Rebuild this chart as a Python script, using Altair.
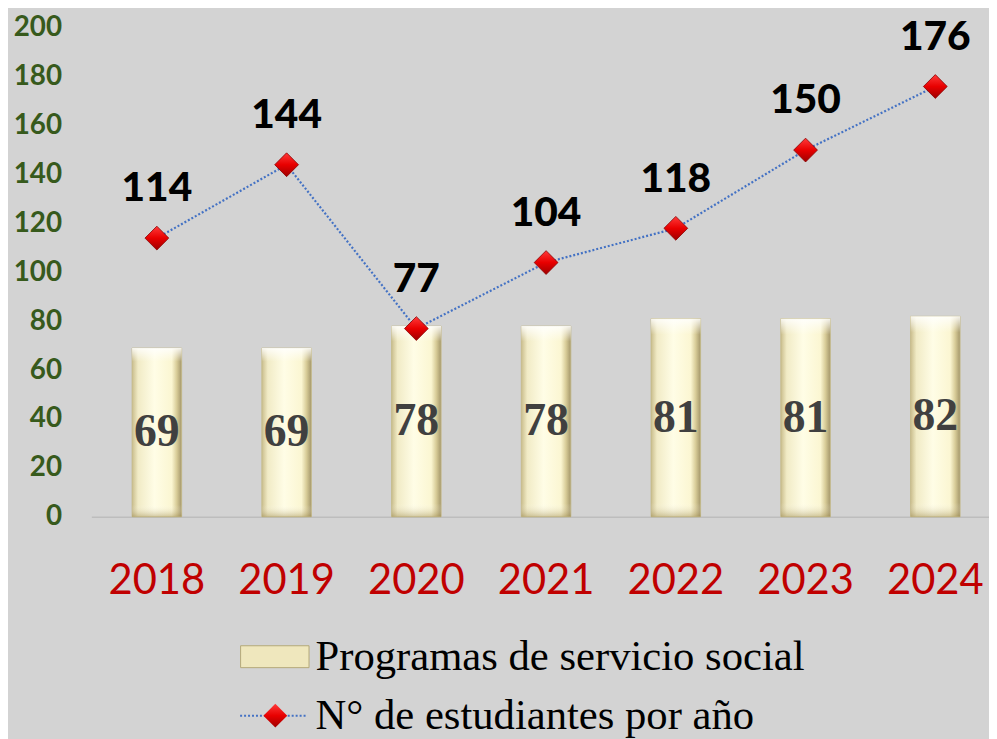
import altair as alt
import pandas as pd

# ---- data ----
years = ["2018", "2019", "2020", "2021", "2022", "2023", "2024"]
programas = [69, 69, 78, 78, 81, 81, 82]
estudiantes = [114, 144, 77, 104, 118, 150, 176]
y_ticks = [0, 20, 40, 60, 80, 100, 120, 140, 160, 180, 200]
serie_bar = "Programas de servicio social"
serie_line = "N° de estudiantes por año"

df = pd.DataFrame({
    "year": years,
    "programas": programas,
    "estudiantes": estudiantes,
    "serie_bar": [serie_bar] * len(years),
    "serie_line": [serie_line] * len(years),
    "serie_pt": [serie_line] * len(years),
})

PLOT_W = 905
PLOT_H = 493

x_enc = alt.X(
    "year:N",
    sort=years,
    scale=alt.Scale(paddingInner=0.618, paddingOuter=0.2685, align=0.585),
    axis=alt.Axis(
        title=None, labelAngle=0, ticks=False, domain=True,
        domainColor="#bdbdbd", domainWidth=1.5,
        labelFont="Lato", labelFontSize=42, labelColor="#c00000",
        labelPadding=44,
    ),
)

y_axis = alt.Axis(
    title=None, values=y_ticks, grid=False, ticks=False, domain=False,
    labelFont="Lato", labelFontWeight="bold", labelFontSize=28,
    labelColor="#375a1c", labelPadding=30,
)
y_scale = alt.Scale(domain=[0, 200], nice=False)

base = alt.Chart(df).encode(x=x_enc)

# legend source bars (hidden below the styled ones)
bars_legend = base.mark_bar().encode(
    y=alt.Y("programas:Q", scale=y_scale, axis=y_axis),
    fill=alt.Fill(
        "serie_bar:N",
        scale=alt.Scale(domain=[serie_bar], range=["#efe7bd"]),
        legend=alt.Legend(
            orient="none", legendX=150, legendY=599, title=None, padding=0,
            symbolType="M-1,-0.32H1V0.32H-1Z", symbolSize=4761,
            symbolStrokeColor="#b3a878", symbolStrokeWidth=1, symbolOpacity=1,
            labelFont="Liberation Serif", labelFontSize=43, labelColor="black",
            labelOffset=6, labelLimit=800,
        ),
    ),
)

h_grad = alt.LinearGradient(
    gradient="linear", x1=0, x2=1, y1=0, y2=0,
    stops=[
        alt.GradientStop(color="#c9bd8c", offset=0),
        alt.GradientStop(color="#f1ebc6", offset=0.12),
        alt.GradientStop(color="#fffde6", offset=0.45),
        alt.GradientStop(color="#fbf6d2", offset=0.8),
        alt.GradientStop(color="#d8cc98", offset=0.9),
        alt.GradientStop(color="#a3966a", offset=1),
    ],
)
bars_grad = base.mark_bar(fill=h_grad, stroke="#c2b888", strokeWidth=0.8).encode(
    y=alt.Y("programas:Q", scale=y_scale, axis=y_axis),
)

v_grad = alt.LinearGradient(
    gradient="linear", x1=0, x2=0, y1=0, y2=1,
    stops=[
        alt.GradientStop(color="rgba(255,255,255,0.85)", offset=0),
        alt.GradientStop(color="rgba(255,255,255,0.0)", offset=0.08),
        alt.GradientStop(color="rgba(255,255,255,0.0)", offset=0.93),
        alt.GradientStop(color="rgba(150,130,70,0.45)", offset=1),
    ],
)
bars_bevel = base.mark_bar(fill=v_grad).encode(
    y=alt.Y("programas:Q", scale=y_scale, axis=y_axis),
)

bar_text = base.transform_calculate(half="datum.programas / 2").mark_text(
    font="Liberation Serif", fontWeight="bold", fontSize=46,
    color="#404040", baseline="middle", align="center",
).encode(
    y=alt.Y("half:Q", scale=y_scale, axis=y_axis),
    text=alt.Text("programas:Q"),
)

line = base.mark_line(color="#4472c4", strokeWidth=2.2, strokeCap="butt").encode(
    y=alt.Y("estudiantes:Q", scale=y_scale, axis=y_axis),
    strokeDash=alt.StrokeDash(
        "serie_line:N",
        scale=alt.Scale(domain=[serie_line], range=[[2, 2]]),
        legend=alt.Legend(
            orient="none", legendX=149, legendY=659, title=None, padding=0,
            symbolType="stroke", symbolSize=4489,
            symbolStrokeColor="#4472c4", symbolStrokeWidth=2,
            labelFont="Liberation Serif", labelFontSize=43, labelColor="black",
            labelOffset=8, labelLimit=800,
        ),
    ),
)

d_grad = alt.LinearGradient(
    gradient="linear", x1=0, x2=0, y1=0, y2=1,
    stops=[
        alt.GradientStop(color="#ff3a3a", offset=0),
        alt.GradientStop(color="#e80000", offset=0.5),
        alt.GradientStop(color="#9e0000", offset=1),
    ],
)
points = base.mark_point(
    filled=True, fill=d_grad, size=576, stroke="#8a0000", strokeWidth=0.8, opacity=1,
).encode(
    y=alt.Y("estudiantes:Q", scale=y_scale, axis=y_axis),
    shape=alt.Shape(
        "serie_pt:N",
        scale=alt.Scale(range=["diamond"]),
        legend=alt.Legend(
            orient="none", legendX=173, legendY=681, title=None, padding=0,
            symbolSize=576, symbolFillColor="#e00000",
            symbolStrokeColor="#8a0000", symbolStrokeWidth=0.8, symbolOpacity=1,
            labelExpr="''", labelFontSize=1,
        ),
    ),
)

point_text = base.mark_text(
    font="Lato", fontWeight=900, fontSize=41, color="black",
    baseline="middle", align="center", dy=-49,
).encode(
    y=alt.Y("estudiantes:Q", scale=y_scale, axis=y_axis),
    text=alt.Text("estudiantes:Q"),
)

chart = alt.layer(
    bars_legend, bars_grad, bars_bevel, bar_text, line, points, point_text
).properties(
    width=PLOT_W,
    height=PLOT_H,
    autosize=alt.AutoSizeParams(type="none"),
    padding={"left": 84, "top": 17, "right": 0, "bottom": 221},
    background="#d3d3d3",
).configure_view(stroke=None)

chart.save("out.html", embed_options={"renderer": "svg", "actions": False})
